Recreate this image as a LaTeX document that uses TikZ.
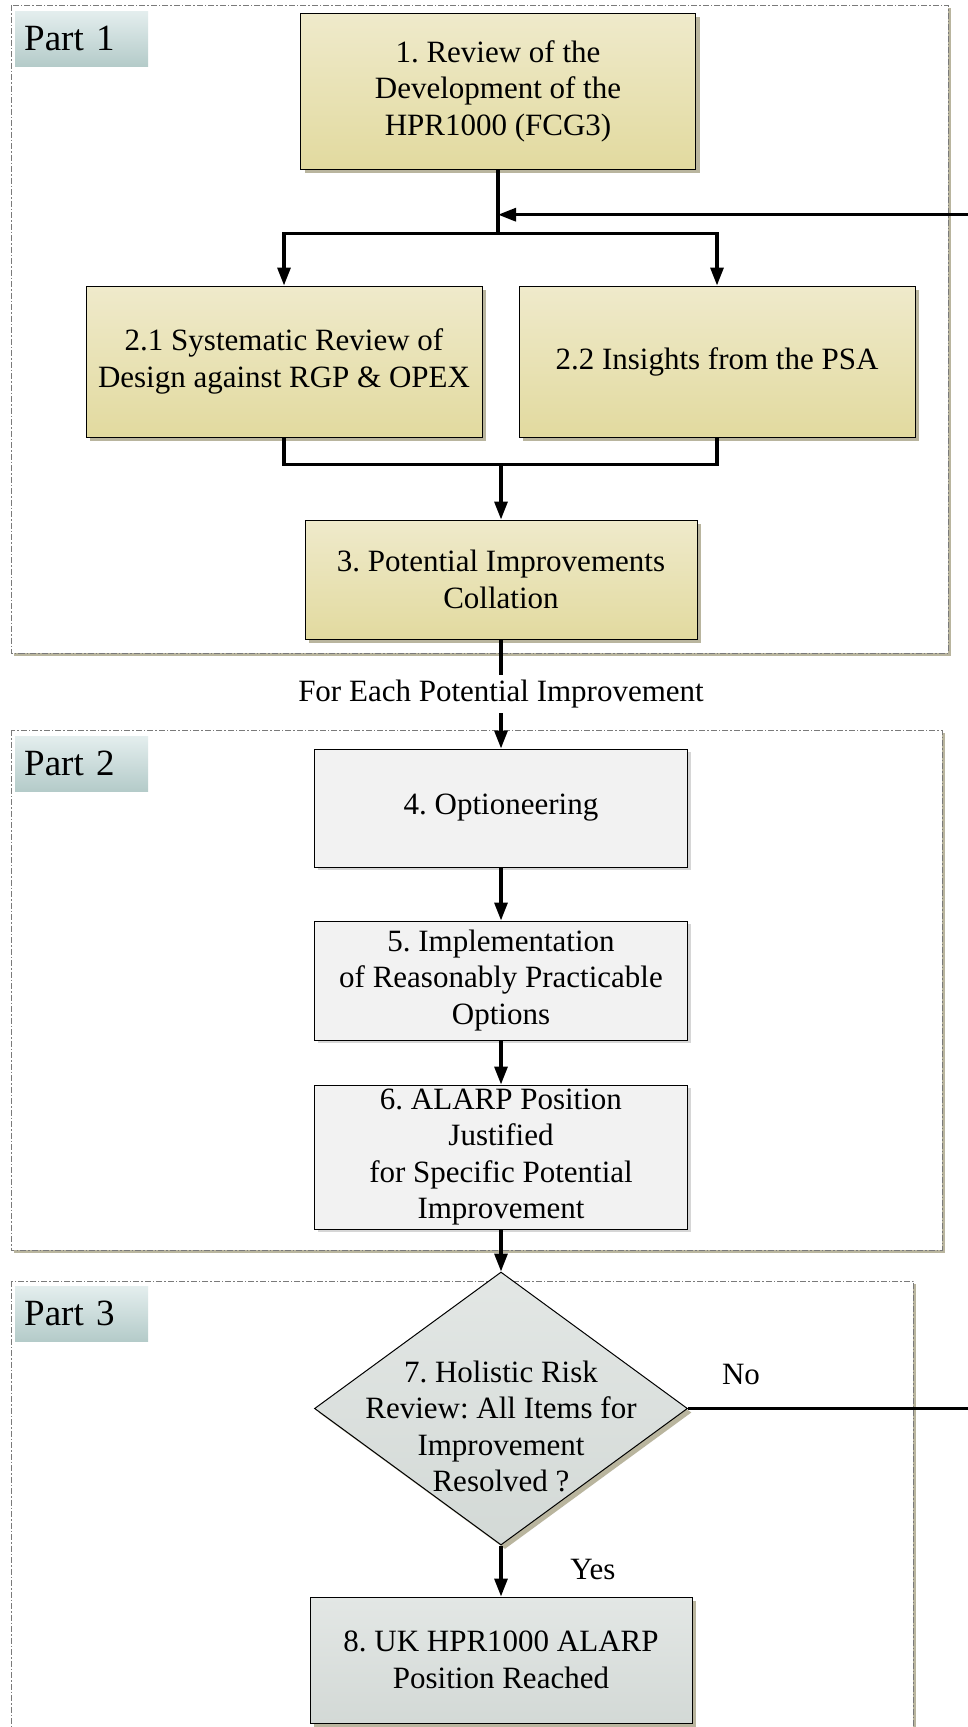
\documentclass[tikz,border=0pt]{standalone}
\usepackage{fontspec}
\setmainfont{Liberation Serif}
\usetikzlibrary{arrows.meta,shapes.geometric,shadows}
\definecolor{yT}{HTML}{EFEACB}
\definecolor{yB}{HTML}{E2DA9F}
\definecolor{gT}{HTML}{E3E7E5}
\definecolor{gB}{HTML}{D3D9D6}
\definecolor{lT}{HTML}{E4EEEE}
\definecolor{lB}{HTML}{B4CBC9}
\definecolor{shd}{HTML}{B9B59E}
\definecolor{lshd}{HTML}{D6D6D6}
\definecolor{cont}{HTML}{7A7A7A}
\definecolor{pbox}{HTML}{F2F2F2}
\frenchspacing
\begin{document}
\begin{tikzpicture}[x=1pt,y=-1pt,
  txt/.style={font=\fontsize{31}{36.5}\selectfont, align=center},
  ybox/.style={txt, draw=black, line width=1pt, top color=yT, bottom color=yB,
    drop shadow={shadow xshift=4pt, shadow yshift=-4pt, fill=shd, opacity=1}, inner sep=0pt},
  gbox/.style={txt, draw=black, line width=1pt, fill=pbox,
    drop shadow={shadow xshift=3pt, shadow yshift=-3pt, fill=lshd, opacity=1}, inner sep=0pt},
  dbox/.style={txt, draw=black, line width=1pt, top color=gT, bottom color=gB,
    drop shadow={shadow xshift=4pt, shadow yshift=-4pt, fill=shd, opacity=1}, inner sep=0pt},
  container/.style={draw=cont, line width=1pt, dash pattern=on 6pt off 2pt on 1.5pt off 2pt, fill=white,
    drop shadow={shadow xshift=3pt, shadow yshift=-3pt, fill=shd, opacity=1}},
  partlbl/.style={font=\fontsize{37}{40}\selectfont, anchor=north west, top color=lT, bottom color=lB,
    text width=115pt, align=left, inner xsep=9pt, inner ysep=0pt, minimum height=55pt},
  ln/.style={line width=3.2pt, draw=black},
  arr/.style={ln, -{Triangle[length=18pt,width=13pt]}},
  lbl/.style={font=\fontsize{31}{36.5}\selectfont}
]
\clip (0,0) rectangle (968,1727);
% containers
\draw[container] (11,5) rectangle (948,653);
\draw[container] (11,730) rectangle (942,1250);
\draw[container] (11,1281) rectangle (913,1800);
% part labels
\node[partlbl] (l1) at (15,11) {Part 1};
\node[partlbl] (l2) at (15,736) {Part 2};
\node[partlbl] (l3) at (15,1286) {Part 3};
% boxes
\node[ybox, minimum width=395pt, minimum height=156pt] (b1) at (498,91) {1. Review of the\\Development of the\\HPR1000 (FCG3)};
\node[ybox, minimum width=396pt, minimum height=151pt] (b21) at (284,361.5) {2.1 Systematic Review of\\Design against RGP \& OPEX};
\node[ybox, minimum width=396pt, minimum height=151pt] (b22) at (717,361.5) {2.2 Insights from the PSA};
\node[ybox, minimum width=392pt, minimum height=119pt] (b3) at (501,579.5) {3. Potential Improvements\\Collation};
\node[gbox, minimum width=373pt, minimum height=118pt] (b4) at (501,808) {4. Optioneering};
\node[gbox, minimum width=373pt, minimum height=119pt] (b5) at (501,980.5) {5. Implementation\\of Reasonably Practicable\\Options};
\node[gbox, minimum width=373pt, minimum height=144pt] (b6) at (501,1157) {6. ALARP Position\\Justified\\for Specific Potential\\Improvement};
\node[dbox, diamond, minimum width=373pt, minimum height=273pt] (d7) at (501,1408.5) {};
\node[txt] (t7) at ([yshift=-18pt]d7.center) {7. Holistic Risk\\Review: All Items for\\Improvement\\Resolved ?};
\node[dbox, minimum width=382pt, minimum height=126pt] (b8) at (501,1660) {8. UK HPR1000 ALARP\\Position Reached};
% coordinates
\coordinate (fb) at (498,214.7);
\coordinate (j1) at (498,233.5);
\coordinate (m) at (501,464.7);
% connectors
\draw[ln] (b1.south) -- (j1);
\draw[arr] (j1) -| (b21.north);
\draw[arr] (j1) -| (b22.north);
\draw[arr] (d7.east) -- ++(300,0) |- (fb);
\draw[ln] (b21.south) |- (m);
\draw[ln] (b22.south) |- (m);
\draw[arr] (m) -- (b3.north);
\draw[arr] (b3.south) -- node[lbl, fill=white, inner xsep=2pt, inner ysep=5pt] (fe) {For Each Potential Improvement} (b4.north);
\draw[arr] (b4.south) -- (b5.north);
\draw[arr] (b5.south) -- (b6.north);
\draw[arr] (b6.south) -- (d7.north);
\draw[arr] (d7.south) -- (b8.north);
\node[lbl] (no) at (741,1374) {No};
\node[lbl] (yes) at (593,1569) {Yes};
\end{tikzpicture}
\end{document}
